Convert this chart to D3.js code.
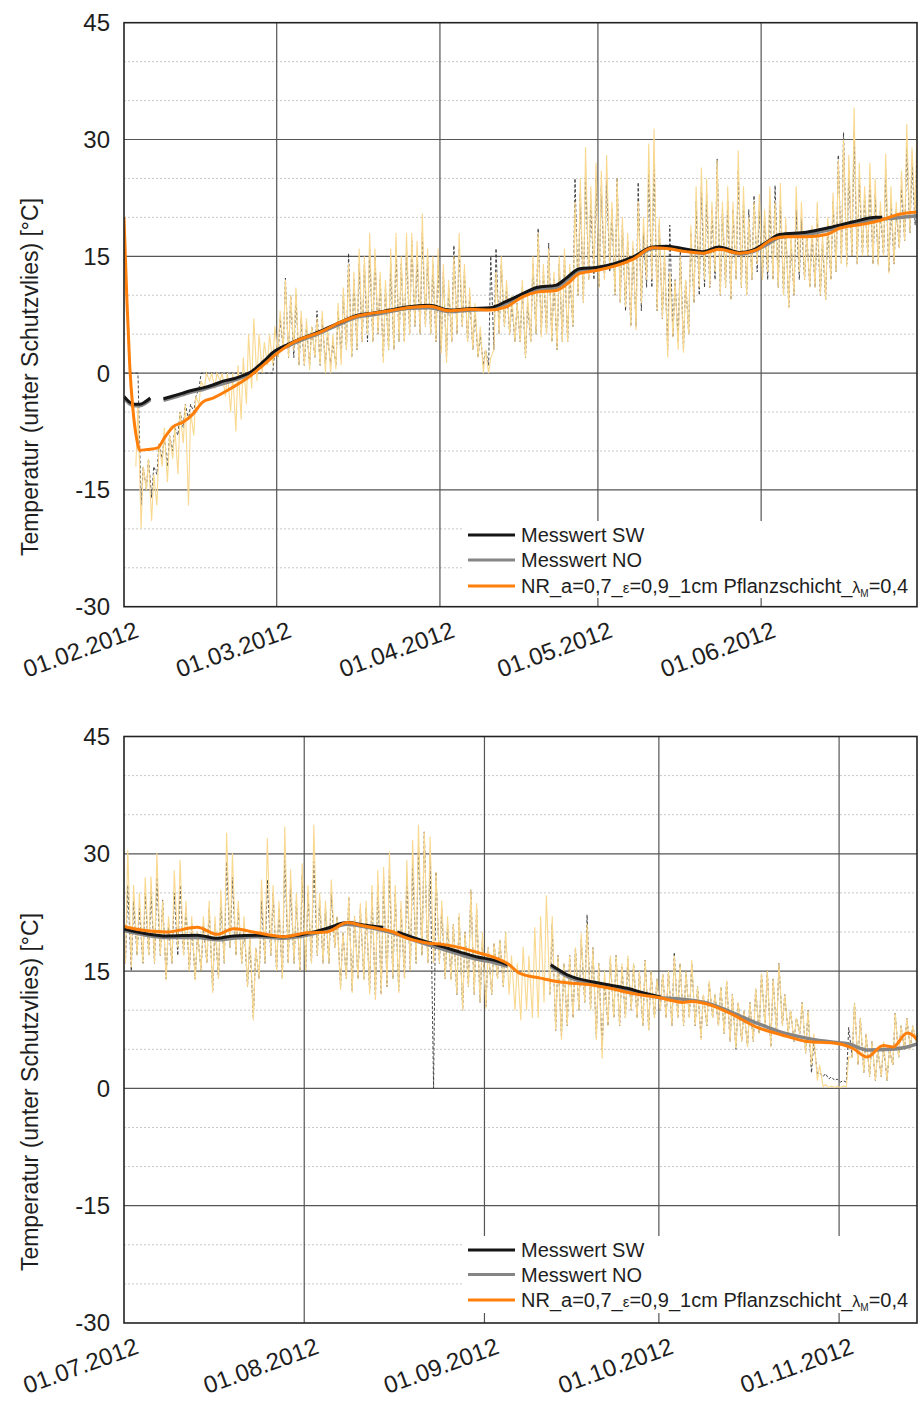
<!DOCTYPE html>
<html><head><meta charset="utf-8">
<script src="https://cdn.jsdelivr.net/npm/d3@7"></script>
<style>
body{margin:0;background:#fff}
svg{display:block}
text{font-family:"Liberation Sans",Arial,Helvetica,sans-serif;fill:#1e1e1e}
</style></head>
<body><svg id="c" width="920" height="1405"></svg>
<script>
// ---------- DATA ----------
const topTickLabels = ["01.02.2012","01.03.2012","01.04.2012","01.05.2012","01.06.2012"];
const botTickLabels = ["01.07.2012","01.08.2012","01.09.2012","01.10.2012","01.11.2012"];
const yMajor = [45,30,15,0,-15,-30];
const yMinor = [40,35,25,20,10,5,-5,-10,-20,-25];
const legendLabels = ["Messwert SW","Messwert NO","NR_a=0,7_ε=0,9_1cm Pflanzschicht_λM=0,4"];

// Top panel (day 0 = 01.02.2012), daily min / max of hourly values
const ylTopMin = [null,null,-12,-20,-15,-19,-17,-12,-14,-11,-13,-9,-17,-8,-4,-2,-1,-2,-1,-3,-5,-7.5,-6,-4,-2,-1,0,1,1,2,
3,2,3,1,1,0.4,2,1,0,0,
0.5,1,3,2,3,4,5,4,5,1.3,
3,3,4,4,5,6,5,6,5,4,
2.5,1.3,4,5,6,4,3,2,0,0,
3,5,6,5,4,4,2,4,5,4.6,
5,4,3,4,4,6,10,9,12,13,
11,12,13.6,10,9,8.5,6,5.5,9,12,
12,8,7,2,4.6,3,2.6,5,9,11,
12,11,13,10,11,9.4,12,11,10,12,
14,12,13,12,11,10,8.3,10,13,12,
11,11,10,9.4,12,13,14,13.6,15,14,
15,15,14,13.8,15,12.8,14,16,17,18,
20];
const ylTopMax = [null,null,-4,-12,-11,-13,-9,-7,-8,-7,-5,-4,-5,-3,-1,0,0,0,0,0,0,1,2,5,7,5,4,5,6,8,
12,10,11,8,7,6,7,8,6,5,
9,11,14,13,16,15,18,16,13,12,
16,18,15,18,18,17,20.5,16,15,16,
14,12,15,18,14,11,9,6,3,2,
13,15,12,10,9,12,10,15,18,14,
16,13,15,16,14,22,25,29,24,27,
26,28,22,25,20,18,17,22,20,29.5,
31.4,20,16,13,12,15,12,19,24,26.4,
25,22,27.3,22,24,22,28.6,24,20,22,
23,21,24,22,24.4,20,18,24,22,18,
19,22,18,20,23.2,27.3,30,28,34.1,27,
24,27,25,22,28.2,24,22,26,32,29,
35.4];
const dkTopMin = [0,0,0,-17,-15,-16,-13,-11,-12,-10,-8,-7,-6,-5,-2,0,0,0,0,0,0,0,0,0,0,0,0,0,0,2,
3,2,2,1,1,1,2,1,1,1,
1,2,3,2,3,4,4,4,5,2,
3,3,4,4,5,6,5,6,5,4,
3,2,4,5,6,4,3,2,1,1,
3,5,6,5,4,4,2,4,5,5,
5,4,3,4,4,6,10,9,12,12,
11,12,13,10,9,8,6,6,8,11,
11,8,7,3,4.6,4,3,5,9,10,
11,11,12,10,11,9.4,12,11,10,12,
13,12,12,12,11,10,8.5,10,12,12,
11,11,10,9.4,12,13,14,14,15,14,
15,15,14,14,15,13,14,16,17,18,
19];
const dkTopMax = [0,0,0,-12,-11,-12,-9,-8,-8,-7,-5,-4,-4,-3,0,0,0,0,0,0,0,0,0,0,0,0,0,0,3,7,
12.2,10,10,7,6,6,8,7,5,4,
8,10,15.4,12,14,14,16,15,12,11,
14,16,14,16,17,15,18,15,14,14,
13,11,16.4,16,13,10,8,5,3,15,
16,14,11,9,9,11,9,14,18.6,13,
16.7,12,14,15,13,25,23,26,22,25,
24,25,21,25.1,19,17,16,24.5,18,26,
28,19,15,19,12,16,12,18,22,24,
23,21,27.5,21,22,21,26,22,21,22.8,
21,20,22,24.1,22,19,17,21,20,18,
18,20,17,19,22,28,30.9,26,31,25,
23,25,23,21,26,22,21,24,29,27,
31];
// smooth series: [day, value], null = gap
const blkTop = [[0,-3.0],[1,-3.7],[2,-4.0],[3,-4.0],[4,-3.7],[5,-3.2],null,[7.5,-3.3],[9,-3.0],[11,-2.6],[13,-2.2],[15,-1.9],[17,-1.5],[19,-1.0],[21,-0.7],[23,-0.2],[24,0.1],[25,0.6],[26,1.2],[27,1.8],[28,2.5],[31.5,3.8],[37.7,5.5],[41,6.5],[44.2,7.4],[47.2,7.7],[50.5,8.1],[53.7,8.5],[58,8.7],[61.8,8.1],[66,8.3],[69.5,8.4],[72.6,9.2],[75.7,10.2],[78.4,11.0],[82.1,11.3],[84,12.2],[86.5,13.4],[90,13.6],[96.6,14.9],[100.4,16.2],[103,16.3],[106,16.0],[109.9,15.6],[113,16.2],[116.9,15.5],[119.4,15.8],[122,16.8],[124.5,17.8],[129.6,18.1],[134,18.7],[138.3,19.4],[142.9,20.0],[144,20.0]];
const gryTop = [[0,-3.2],[1,-3.9],[2,-4.2],[3,-4.2],[4,-3.9],[5,-3.4],null,[7.5,-3.5],[9,-3.2],[11,-2.8],[13,-2.4],[15,-2.1],[17,-1.7],[19,-1.3],[21,-0.9],[23,-0.4],[24,-0.1],[25,0.4],[26,1.0],[27,1.6],[28,2.3],[31.5,3.6],[37.7,5.3],[41,6.3],[44.2,7.2],[47.2,7.5],[50.5,7.9],[53.7,8.3],[58,8.4],[61.8,7.9],[66,8.1],[69.5,8.2],[72.6,9.0],[75.7,9.9],[78.4,10.7],[82.1,11.0],[84,11.9],[86.5,13.2],[90,13.4],[96.6,14.7],[100.4,16.0],[103,16.1],[106,15.8],[109.9,15.4],[113,16.0],[116.9,15.3],[119.4,15.6],[122,16.5],[124.5,17.4],[129.6,17.8],[134,18.4],[138.3,19.1],[142.9,19.7],[146,19.9],[150.6,20.2]];
const orgTop = [[0,20],[0.55,9.4],[1.1,0.8],[1.7,-4.7],[2.45,-8.6],[3.0,-9.9],[4.5,-9.8],[6.4,-9.6],[7.7,-8.3],[9.3,-6.9],[11.2,-6.3],[12.9,-5.4],[15,-3.7],[16.9,-3.2],[20.7,-1.8],[23.5,-0.6],[26.4,1.0],[29,2.5],[31.5,3.7],[37.7,5.4],[41,6.5],[44.2,7.3],[47.2,7.7],[50.5,8.0],[53.7,8.4],[58,8.6],[61.8,8.0],[66,8.2],[69.5,8.1],[72.6,8.5],[75.7,9.8],[78.4,10.4],[82.1,10.6],[84.6,11.7],[86.5,12.8],[90,13.2],[96.6,14.6],[100.4,16.1],[103,16.0],[106.8,15.6],[109.9,15.4],[113,15.9],[116.9,15.4],[120,15.8],[123.2,17.2],[125.8,17.5],[129.6,17.5],[133.4,17.8],[135.9,18.6],[141,19.2],[144,19.7],[147.2,20.4],[150.5,20.7]];

// Bottom panel (day 0 = 01.07.2012)
const ylBotMin = [16,15.5,17,16,17,16,17,13.8,16,18,
17,15,13.8,15,16,12.2,14,16,18,17,
16,13,8.7,14,16,17,15,14,16,16,
15,15,16,17,16,16,18,12.6,14,12.2,
14,13.8,12,11.3,12,13,14,12.2,14,15,
16,17,16,16,16,14,13.8,12,10,13,
12,11,10.2,12,14,13,12,10,8.7,10,
9,9,11,12,7.4,6.2,8,9,10,11,
10,6.2,3.8,8,9,8,9,10,9,8,
7.4,9,10,9,8,9,8,9,8,6.2,
8,9,8,7,6,5.1,6,5.3,6,7,
8,5.3,7,8,7,6,7,4.5,3,1,
0.2,0.1,0.1,0.1,0.2,4,3,2,1.5,1,
1.5,1,3,4,5,5,6];
const ylBotMax = [30.5,26,25,27,27.1,30.1,24,22,27.9,29.2,
24,22,20,22,24,22,25.4,32.7,30.1,24,
22,20,18,26.7,32,26,24,33.5,28,25,
28.8,26,33.7,25,24,26.7,22,20,24.5,22,
23.7,24,26,27.9,28.3,30.3,26,24,29.2,31.8,
33.7,32.8,32.2,27.7,24,22,21,22.4,20,25.4,
23.7,20,18,18.6,19,20,17,16,18.1,17,
20.6,22,24.7,22,17,16,17,18,19.8,21,
18,16,15,17,17,16,17,16,15,16.4,
15,14,14.7,15,17,16,15,16.4,13,12,
13.8,12,13,13.8,12,11,10,11,12.8,14.7,
15.1,14,16,12,10,9,11,10,7,3,
0.5,0.3,0.3,0.3,4,10.9,9,7,6,5,
6,5,9.6,8,9,8,8];
const dkBotMin = [16,15,17,16,17,16,17,14,16,17,
17,15,14,15,16,12.5,14,16,18,17,
16,13,9,14,16,17,15,14,16,16,
15,15,16,17,16,16,18,13,14,12.5,
14,14,12.5,11.5,12,13,14,12.5,14,15,
16,17,16,0,16,14,14,12,10,13,
12,11,10.5,12,14,13,null,null,null,null,
null,null,null,12,7.4,6.5,8,9,10,11,
10,6.5,5,8,9,8,9,10,9,8,
7.5,9,10,9,8,9,8,9,8,6.5,
8,9,8,7,6,5,6,5.3,6,7,
8,5.3,7,8,7,6,7,4.5,2,1.9,
1.5,1.2,1,0.8,0.8,4,3,2,1.5,1,
1.5,1,3,4,5,5,6];
const dkBotMax = [26,24,23,25,25,27,24.1,21,25,26,
23,21,20,21,23,21,24,29,27,23,
21,19,18,24,26.7,25,23,30,26,24,
27.3,25,29,24,23,25,22,20,24.5,22,
23,23,25,26,27,28,25,23,27,29,
31,32.8,30,27.7,23,21,21,22,20,25.4,
23,19,18,18.6,19,20,null,null,null,null,
null,null,null,21,17,16,17,18,19,22.2,
18,16,14,16.5,17,15.5,16.5,16,15,16.4,
15,14,14.7,15,17.4,16,15,16,13,12,
13.5,12,13,13.8,12,11,10,11,12.8,14.7,
15.1,14,16,12,10,9,11,10,6,2,
1.9,1.5,1.2,1,7.8,10.9,9,7,6,5,
5.5,5,9.6,8,9,8,8];
const blkBot = [[0,20.4],[7.4,19.5],[12.6,19.6],[16,19.2],[18.8,19.5],[22.9,19.6],[27.4,19.4],[31.5,19.8],[35,20.5],[38.4,21.2],[41.2,20.9],[44.6,20.6],null,[47,20.0],[49.3,19.4],[52.2,18.7],[54.9,18.1],[57.9,17.4],[60.8,16.8],[63.6,16.4],[66,15.8],null,[73.4,15.8],[76.3,14.5],[80.8,13.6],[83.7,13.2],[86.6,12.8],[89.4,12.2],[92.3,11.7]];
const gryBot = [[0,20.2],[7.4,19.3],[12.6,19.3],[16,19.0],[18.8,19.2],[22.9,19.4],[27.4,19.2],[31.5,19.6],[35,20.3],[38.4,21.0],[41.2,20.7],[44.6,20.2],[47,19.7],[49.3,19.1],[52.2,18.4],[54.9,17.8],[57.9,17.1],[60.8,16.5],[63.6,16.1],[66,15.6],null,[73.4,15.6],[76.3,14.3],[80.8,13.4],[83.7,13.0],[86.6,12.6],[89.4,12.1],[92.3,11.6],[94.6,11.5],[100.4,10.9],[104.9,9.6],[109,8.3],[113,7.2],[117.6,6.4],[122.1,5.9],[124.5,5.7],[128,4.9],[131.8,5.0],[134.7,5.3],[136.4,5.7]];
const orgBot = [[0,20.8],[0.5,20.6],[7.4,20.0],[12.6,20.6],[16,19.7],[18.8,20.4],[22.9,19.9],[27.4,19.4],[31.5,19.9],[34.9,20.0],[38.4,21.2],[41.1,20.8],[44,20.4],[46.3,20.0],[48,19.4],[52.1,18.6],[54.9,18.4],[57.8,18.0],[60.7,17.4],[63.5,16.8],[65.9,16.0],[68.1,14.7],[71.6,14.1],[75,13.6],[77.9,13.4],[80.7,13.2],[83.6,12.8],[86.5,12.3],[89.3,11.9],[92.2,11.6],[94.4,11.2],[96.2,11.0],[97.4,11.1],[100.3,10.8],[104.8,9.4],[108.9,7.8],[112.9,6.9],[117.5,6.0],[122,5.8],[125.4,5.1],[127.8,4.0],[130.6,5.5],[132.3,5.3],[134.7,7.1],[135.7,6.8],[136.4,6.2]];

// ---------- DRAW ----------
const DAY = 864e5;
const svg = d3.select("#c");
const parse = d3.utcParse("%d.%m.%Y");
const L = 124, R = 917;

const panels = [
  {id:"p1", top:22.7, bottom:606.7, start:Date.UTC(2012,1,1), days:150.6, labels:topTickLabels,
   ylMin:ylTopMin, ylMax:ylTopMax, dkMin:dkTopMin, dkMax:dkTopMax, blk:blkTop, gry:gryTop, org:orgTop,
   legTop:521, legBot:598, rows:[535,560,586], titleY:377},
  {id:"p2", top:736.5, bottom:1323, start:Date.UTC(2012,6,1), days:136.4, labels:botTickLabels,
   ylMin:ylBotMin, ylMax:ylBotMax, dkMin:dkBotMin, dkMax:dkBotMax, blk:blkBot, gry:gryBot, org:orgBot,
   legTop:1236, legBot:1313, rows:[1250,1274.5,1300], titleY:1092}
];

panels.forEach(p => {
  const x = d3.scaleUtc().domain([new Date(p.start), new Date(p.start + p.days*DAY)]).range([L, R]);
  const y = d3.scaleLinear().domain([-30,45]).range([p.bottom, p.top]);
  const g = svg.append("g");
  const xd = d => x(new Date(p.start + d*DAY));

  g.append("clipPath").attr("id","clip"+p.id).append("rect")
    .attr("x",L).attr("y",p.top).attr("width",R-L).attr("height",p.bottom-p.top);

  g.selectAll(".mn").data(yMinor).join("line")
    .attr("x1",L).attr("x2",R).attr("y1",d=>y(d)).attr("y2",d=>y(d))
    .attr("stroke","#c8c8c8").attr("stroke-width",1).attr("stroke-dasharray","2,2");
  g.selectAll(".mj").data(yMajor.slice(1,-1)).join("line")
    .attr("x1",L).attr("x2",R).attr("y1",d=>y(d)).attr("y2",d=>y(d))
    .attr("stroke","#555").attr("stroke-width",1.2);
  const tickDates = p.labels.map(parse);
  g.selectAll(".vx").data(tickDates.slice(1)).join("line")
    .attr("x1",d=>x(d)).attr("x2",d=>x(d)).attr("y1",p.top).attr("y2",p.bottom)
    .attr("stroke","#555").attr("stroke-width",1.2);

  const data = g.append("g").attr("clip-path","url(#clip"+p.id+")");
  const noisy = (mins,maxs) => {
    const pts=[];
    mins.forEach((mn,i)=>{ if(mn==null){pts.push(null);return;}
      pts.push([i+0.25,mn]); pts.push([i+0.65,maxs[i]]); });
    return pts;
  };
  const line = d3.line().defined(d=>d!=null).x(d=>xd(d[0])).y(d=>y(d[1]));
  const smooth = d3.line().defined(d=>d!=null).x(d=>xd(d[0])).y(d=>y(d[1])).curve(d3.curveMonotoneX);

  data.append("path").attr("d",line(noisy(p.dkMin,p.dkMax)))
    .attr("fill","none").attr("stroke","#333").attr("stroke-width",0.9).attr("stroke-dasharray","3,2");
  data.append("path").attr("d",line(noisy(p.ylMin,p.ylMax)))
    .attr("fill","none").attr("stroke","#f9d88f").attr("stroke-width",1.1);
  data.append("path").attr("d",smooth(p.gry))
    .attr("fill","none").attr("stroke","#858585").attr("stroke-width",3.5);
  data.append("path").attr("d",smooth(p.blk))
    .attr("fill","none").attr("stroke","#151515").attr("stroke-width",3);
  data.append("path").attr("d",smooth(p.org))
    .attr("fill","none").attr("stroke","#ff7f0a").attr("stroke-width",3);

  // legend
  g.append("rect").attr("x",463).attr("y",p.legTop).attr("width",R-1-463).attr("height",p.legBot-p.legTop).attr("fill","#fff");
  const cols = ["#151515","#858585","#ff7f0a"];
  p.rows.forEach((ry,i)=>{
    g.append("line").attr("x1",468).attr("x2",515).attr("y1",ry).attr("y2",ry)
      .attr("stroke",cols[i]).attr("stroke-width",3);
  });
  g.append("text").attr("x",521).attr("y",p.rows[0]).attr("dy","0.35em").attr("font-size",20).text(legendLabels[0]);
  g.append("text").attr("x",521).attr("y",p.rows[1]).attr("dy","0.35em").attr("font-size",20).text(legendLabels[1]);
  const t3 = g.append("text").attr("x",521).attr("y",p.rows[2]).attr("dy","0.35em").attr("font-size",20);
  t3.append("tspan").text("NR_a=0,7_");
  t3.append("tspan").attr("font-size",15).text("ε");
  t3.append("tspan").text("=0,9_1cm Pflanzschicht_");
  t3.append("tspan").attr("font-size",16).text("λ");
  t3.append("tspan").attr("font-size",10).attr("dy","4").text("M");
  t3.append("tspan").attr("dy","-4").text("=0,4");

  g.append("rect").attr("x",L).attr("y",p.top).attr("width",R-L).attr("height",p.bottom-p.top)
    .attr("fill","none").attr("stroke","#222").attr("stroke-width",1.6);

  g.selectAll(".yl").data(yMajor).join("text")
    .attr("x",110).attr("y",d=>y(d)).attr("dy","0.35em").attr("text-anchor","end")
    .attr("font-size",24).text(d=>d);
  g.selectAll(".xl").data(p.labels).join("text")
    .attr("text-anchor","end").attr("font-size",24)
    .attr("transform",d=>`translate(${x(parse(d))+16},${p.bottom+30}) rotate(-20)`)
    .text(d=>d);
  g.append("text").attr("text-anchor","middle").attr("font-size",23)
    .attr("transform",`translate(38,${p.titleY}) rotate(-90)`)
    .text("Temperatur (unter Schutzvlies) [°C]");
});
</script></body></html>
